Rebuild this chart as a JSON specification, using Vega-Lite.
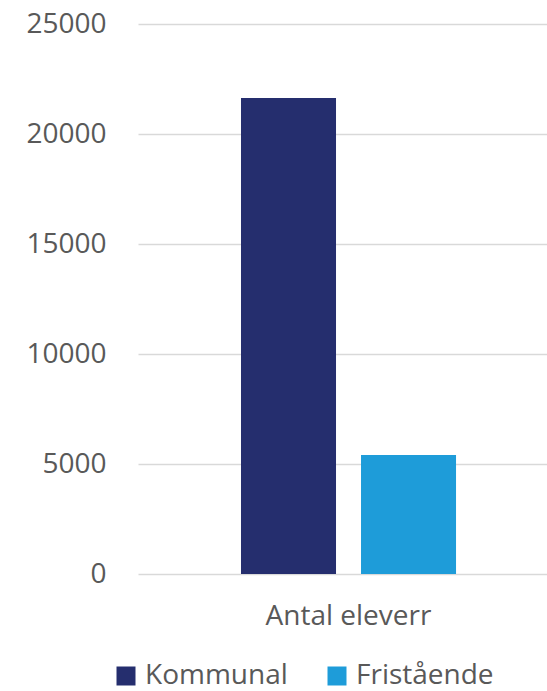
{
  "$schema": "https://vega.github.io/schema/vega-lite/v6.json",
  "width": 409,
  "height": 550,
  "autosize": {"type": "none"},
  "padding": {"left": 138, "top": 24, "right": 0, "bottom": 117},
  "background": "white",
  "config": {"view": {"stroke": null}, "font": "Open Sans"},
  "data": {
    "values": [
      {"kategori": "Antal eleverr", "typ": "Kommunal", "antal": 21640},
      {"kategori": "Antal eleverr", "typ": "Fristående", "antal": 5410}
    ]
  },
  "mark": {"type": "bar"},
  "encoding": {
    "x": {
      "field": "kategori",
      "type": "nominal",
      "scale": {"paddingInner": 0, "paddingOuter": 0.451, "align": 0.531},
      "axis": {
        "title": null,
        "labelAngle": 0,
        "domain": false,
        "ticks": false,
        "labelPadding": 28,
        "labelFontSize": 28,
        "labelFont": "Open Sans",
        "labelColor": "#595959"
      }
    },
    "xOffset": {
      "field": "typ",
      "type": "nominal",
      "sort": ["Kommunal", "Fristående"],
      "scale": {"paddingInner": 0.2083, "paddingOuter": 0}
    },
    "y": {
      "field": "antal",
      "type": "quantitative",
      "scale": {"domain": [0, 25000]},
      "axis": {
        "title": null,
        "values": [0, 5000, 10000, 15000, 20000, 25000],
        "format": "d",
        "domain": false,
        "ticks": false,
        "labelPadding": 32,
        "labelFontSize": 28,
        "labelFont": "Open Sans",
        "labelColor": "#595959",
        "grid": true,
        "gridColor": "#d9d9d9",
        "gridWidth": 1.5
      }
    },
    "color": {
      "field": "typ",
      "type": "nominal",
      "sort": ["Kommunal", "Fristående"],
      "scale": {"domain": ["Kommunal", "Fristående"], "range": ["#252E6E", "#1E9CD9"]},
      "legend": {
        "title": null,
        "orient": "none",
        "direction": "horizontal",
        "legendX": -26,
        "legendY": 638,
        "padding": 0,
        "symbolType": "square",
        "symbolSize": 361,
        "symbolStrokeWidth": 0,
        "symbolOpacity": 1,
        "labelFontSize": 28,
        "labelFont": "Open Sans",
        "labelColor": "#595959",
        "labelOffset": 5,
        "columnPadding": 35
      }
    }
  }
}
